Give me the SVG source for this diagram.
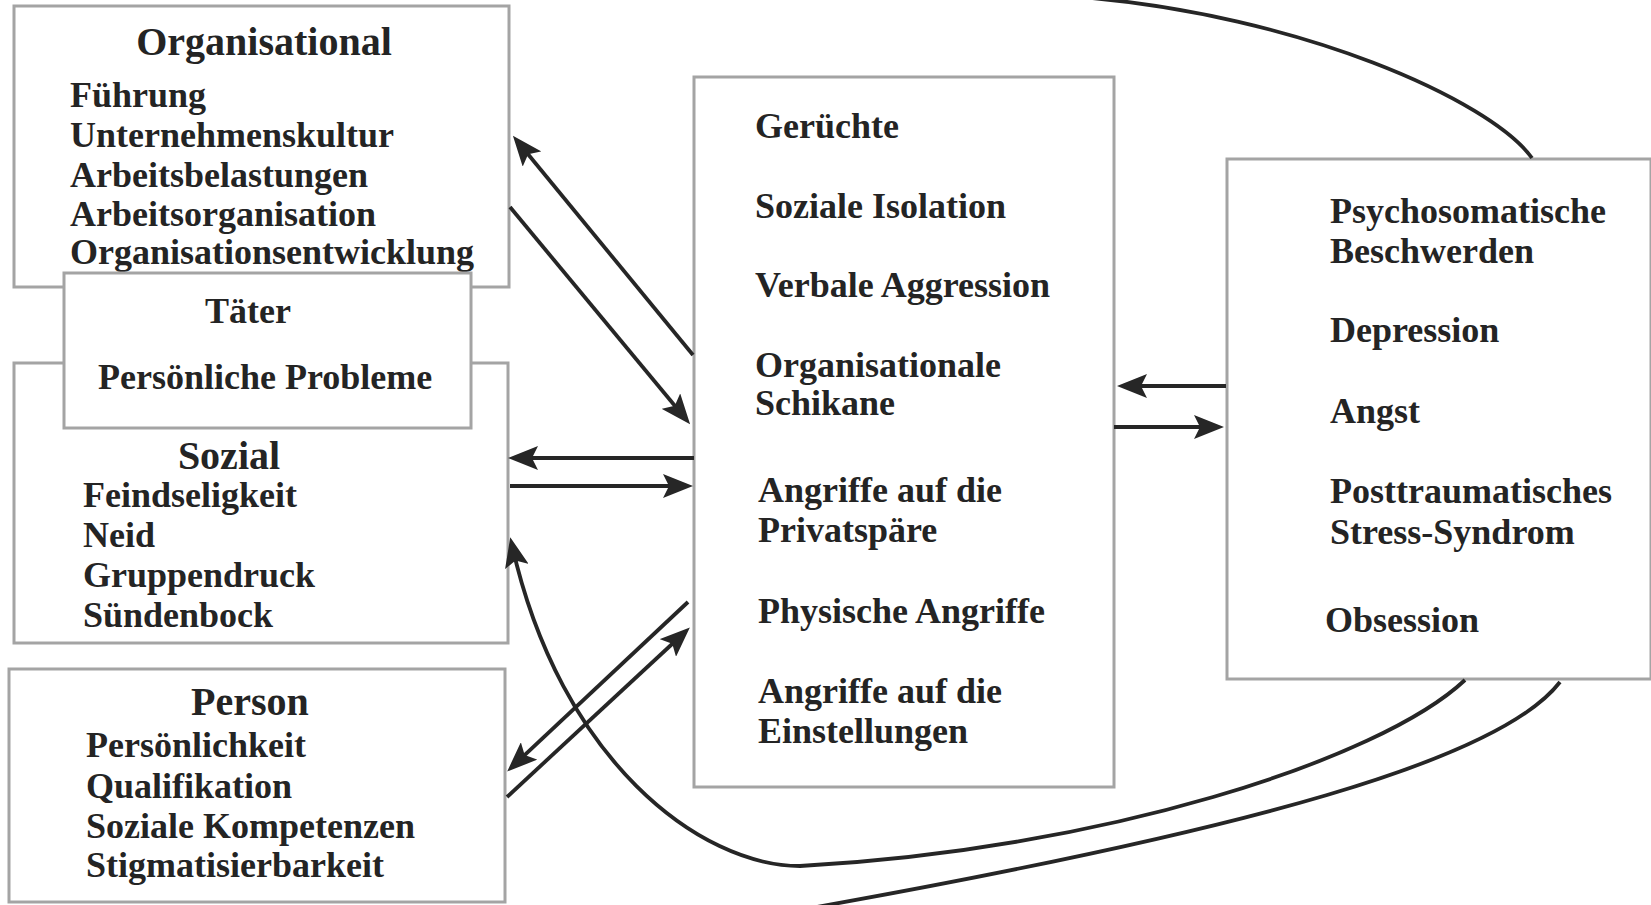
<svg xmlns="http://www.w3.org/2000/svg" width="1651" height="905" viewBox="0 0 1651 905">
<style>
.box{fill:none;stroke:#a4a4a4;stroke-width:3}
.boxw{fill:#fff;stroke:#a4a4a4;stroke-width:3}
text{font-family:"Liberation Serif","Times New Roman",serif;font-weight:bold;fill:#242424}
.h{font-size:40px;text-anchor:middle}
.b{font-size:36px}
.c{fill:none;stroke:#262626;stroke-width:3.8}
</style>
<defs>
<marker id="ah" viewBox="0 0 30 24" markerWidth="30" markerHeight="24" refX="22" refY="12" orient="auto" markerUnits="userSpaceOnUse">
<path d="M0,0 L30,12 L0,24 L6,12 z" fill="#262626"/>
</marker>
</defs>
<rect width="1651" height="905" fill="#fff"/>
<g id="organisational">
<rect class="box" x="14" y="6" width="495" height="281"/>
<text class="h" x="264" y="55">Organisational</text>
<text class="b" x="70" y="107">Führung</text>
<text class="b" x="70" y="147">Unternehmenskultur</text>
<text class="b" x="70" y="187">Arbeitsbelastungen</text>
<text class="b" x="70" y="226">Arbeitsorganisation</text>
<text class="b" x="70" y="264">Organisationsentwicklung</text>
</g>
<g id="sozial">
<rect class="box" x="14" y="363" width="494" height="280"/>
<text class="h" x="229" y="469">Sozial</text>
<text class="b" x="83" y="507">Feindseligkeit</text>
<text class="b" x="83" y="547">Neid</text>
<text class="b" x="83" y="587">Gruppendruck</text>
<text class="b" x="83" y="627">Sündenbock</text>
</g>
<g id="taeter">
<rect class="boxw" x="64" y="273" width="407" height="155"/>
<text class="h" x="248" y="323" style="font-size:36px">Täter</text>
<text class="b" x="98" y="389">Persönliche Probleme</text>
</g>
<g id="person">
<rect class="box" x="9" y="669" width="496" height="233"/>
<text class="h" x="250" y="715">Person</text>
<text class="b" x="86" y="757">Persönlichkeit</text>
<text class="b" x="86" y="798">Qualifikation</text>
<text class="b" x="86" y="838">Soziale Kompetenzen</text>
<text class="b" x="86" y="877">Stigmatisierbarkeit</text>
</g>
<g id="mobbing">
<rect class="box" x="694" y="77" width="420" height="710"/>
<text class="b" x="755" y="138">Gerüchte</text>
<text class="b" x="755" y="218">Soziale Isolation</text>
<text class="b" x="755" y="297">Verbale Aggression</text>
<text class="b" x="755" y="377">Organisationale</text>
<text class="b" x="755" y="415">Schikane</text>
<text class="b" x="758" y="502">Angriffe auf die</text>
<text class="b" x="758" y="542">Privatspäre</text>
<text class="b" x="758" y="623">Physische Angriffe</text>
<text class="b" x="758" y="703">Angriffe auf die</text>
<text class="b" x="758" y="743">Einstellungen</text>
</g>
<g id="folgen">
<rect class="box" x="1227" y="159" width="424" height="520"/>
<text class="b" x="1330" y="223">Psychosomatische</text>
<text class="b" x="1330" y="263">Beschwerden</text>
<text class="b" x="1330" y="342">Depression</text>
<text class="b" x="1330" y="423">Angst</text>
<text class="b" x="1330" y="503">Posttraumatisches</text>
<text class="b" x="1330" y="544">Stress-Syndrom</text>
<text class="b" x="1325" y="632">Obsession</text>
</g>
<g id="connectors">
<path class="c" d="M693,355 L518,142" marker-end="url(#ah)"/>
<path class="c" d="M510,207 L685,418" marker-end="url(#ah)"/>
<path class="c" d="M694,458 L516,458" marker-end="url(#ah)"/>
<path class="c" d="M510,486 L685,486" marker-end="url(#ah)"/>
<path class="c" d="M688,602 L513,766" marker-end="url(#ah)"/>
<path class="c" d="M507,797 L684,633" marker-end="url(#ah)"/>
<path class="c" d="M1226,386 L1125,386" marker-end="url(#ah)"/>
<path class="c" d="M1114,427 L1216,427" marker-end="url(#ah)"/>
<path class="c" d="M1532,158 C1490,100 1300,15 1080,-3"/>
<path class="c" d="M1465,680 C1380,760 1100,850 800,866 C700,866 560,760 512,545" marker-end="url(#ah)"/>
<path class="c" d="M1560,682 C1500,760 1250,830 800,910"/>
</g>
</svg>
